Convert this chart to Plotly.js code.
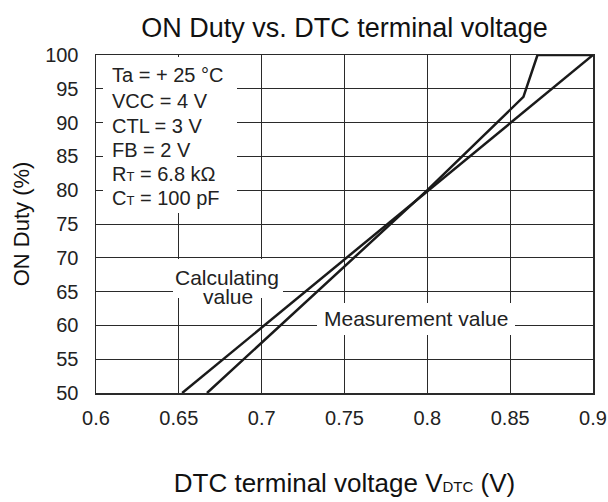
<!DOCTYPE html>
<html><head><meta charset="utf-8">
<script src="https://cdn.plot.ly/plotly-3.0.1.min.js"></script>
<style>html,body{margin:0;padding:0;background:#fff}#c{width:608px;height:502px}</style>
</head><body><div id="c"></div>
<script>
var calcX = [0.652, 0.9];
var calcY = [50, 100];
var measX = [0.667, 0.8, 0.858, 0.8665, 0.9];
var measY = [50, 80, 93.8, 100, 100];
var xTicks = [0.6, 0.65, 0.7, 0.75, 0.8, 0.85, 0.9];
var xTickText = ['0.6', '0.65', '0.7', '0.75', '0.8', '0.85', '0.9'];
var yTicks = [50, 55, 60, 65, 70, 75, 80, 85, 90, 95, 100];
var condLines = ['Ta = + 25 °C', 'VCC = 4 V', 'CTL = 3 V', 'FB = 2 V', 'R<span style="font-size:13px">T</span> = 6.8 kΩ', 'C<span style="font-size:13px">T</span> = 100 pF'];

var F = 'Liberation Sans';
var L = 96, R = 593, T = 55, B = 393;
function px(x) { return (x - L) / (R - L); }
function py(y) { return 1 - (y - T) / (B - T); }

var traces = [
  {x: calcX, y: calcY, mode: 'lines', line: {color: '#1a1a1a', width: 2.5}, hoverinfo: 'skip'},
  {x: measX, y: measY, mode: 'lines', line: {color: '#1a1a1a', width: 2.5}, hoverinfo: 'skip'}
];
var ann = [];
var condY = [75, 101, 126, 150, 174, 198];
for (var i = 0; i < condLines.length; i++) {
  ann.push({xref: 'paper', yref: 'paper', x: px(110), y: py(condY[i]),
    xanchor: 'left', yanchor: 'middle', text: condLines[i], showarrow: false,
    font: {family: F, size: 20, color: '#222'}});
}
ann.push({xref: 'paper', yref: 'paper', x: px(227), y: py(277), xanchor: 'center', yanchor: 'middle',
  text: 'Calculating', showarrow: false, font: {family: F, size: 21, color: '#222'}});
ann.push({xref: 'paper', yref: 'paper', x: px(228), y: py(296), xanchor: 'center', yanchor: 'middle',
  text: 'value', showarrow: false, font: {family: F, size: 21, color: '#222'}});
ann.push({xref: 'paper', yref: 'paper', x: px(416), y: py(318), xanchor: 'center', yanchor: 'middle',
  text: 'Measurement value', showarrow: false, font: {family: F, size: 21, color: '#222'}});

function whiteRect(x0, x1, y0, y1) {
  return {type: 'rect', xref: 'paper', yref: 'paper', layer: 'above',
    x0: px(x0), x1: px(x1), y0: py(y1), y1: py(y0), fillcolor: '#fff', line: {width: 0}};
}

var layout = {
  width: 608, height: 502,
  margin: {l: L, r: 608 - R, t: T, b: 502 - B},
  paper_bgcolor: '#fff', plot_bgcolor: '#fff',
  showlegend: false,
  title: {text: 'ON Duty vs. DTC terminal voltage', x: 0.5, xref: 'paper', y: 1 - 28 / 502, yanchor: 'middle',
    font: {family: F, size: 27, color: '#111'}},
  xaxis: {range: [0.6, 0.9], tickvals: xTicks, ticktext: xTickText, showgrid: true, gridcolor: '#2a2a2a', gridwidth: 1,
    zeroline: false, showline: true, linecolor: '#2a2a2a', linewidth: 1.5, mirror: true, ticks: '',
    ticklabelstandoff: 6,
    tickfont: {family: F, size: 20, color: '#222'},
    title: {text: 'DTC terminal voltage V<span style="font-size:15px">DTC</span> (V)', standoff: 46, font: {family: F, size: 26, color: '#111'}}},
  yaxis: {range: [50, 100], tickvals: yTicks, showgrid: true, gridcolor: '#2a2a2a', gridwidth: 1,
    zeroline: false, showline: true, linecolor: '#2a2a2a', linewidth: 1.5, mirror: true, ticks: '',
    ticklabelstandoff: 12,
    tickfont: {family: F, size: 20, color: '#222'},
    title: {text: 'ON Duty (%)', standoff: 9, font: {family: F, size: 22, color: '#111'}}},
  shapes: [whiteRect(103, 237, 57, 213), whiteRect(173, 283, 259, 298), whiteRect(317, 515, 303, 335)],
  annotations: ann
};
Plotly.newPlot('c', traces, layout, {staticPlot: true, displayModeBar: false});
</script></body></html>
